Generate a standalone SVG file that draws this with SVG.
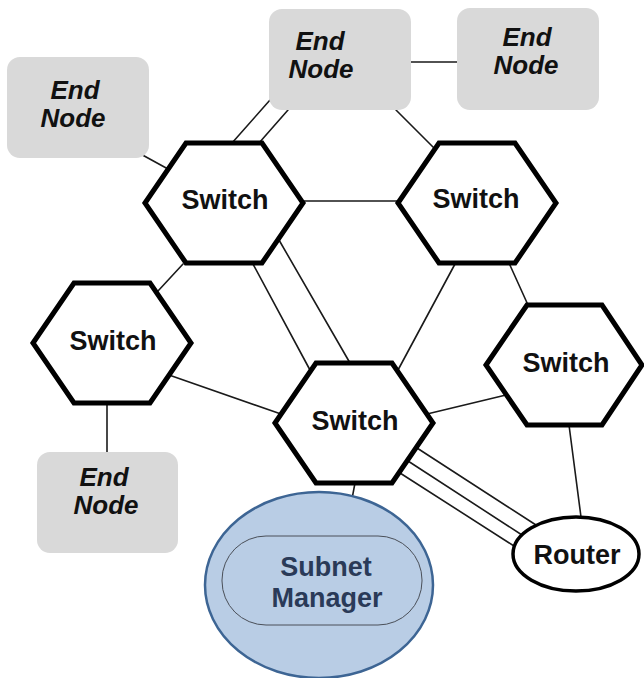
<svg xmlns="http://www.w3.org/2000/svg" width="644" height="678" viewBox="0 0 644 678">
  <style>
    .end { fill: #d9d9d9; stroke: none; }
    .endtxt { font-family: "Liberation Sans", Arial, sans-serif; font-size: 26px; font-weight: bold; font-style: italic; fill: #111; text-anchor: middle; }
    .hex { fill: #ffffff; stroke: #000; stroke-width: 5; stroke-linejoin: miter; }
    .swtxt { font-family: "Liberation Sans", Arial, sans-serif; font-size: 27px; font-weight: bold; fill: #111; text-anchor: middle; }
    .link { stroke: #1a1a1a; stroke-width: 1.6; fill: none; stroke-linecap: round; }
    .sm { fill: #b9cde5; stroke: #3d6594; stroke-width: 2.5; }
    .smin { fill: none; stroke: #4a4f58; stroke-width: 1; }
    .smtxt { font-family: "Liberation Sans", Arial, sans-serif; font-size: 27px; font-weight: bold; fill: #2a3a58; text-anchor: middle; }
    .router { fill: #ffffff; stroke: #000; stroke-width: 3.5; }
  </style>

  <!-- links between nodes -->
  <g id="connectors">
    <line class="link" x1="411" y1="62" x2="457" y2="62"/>
    <line class="link" x1="270" y1="100" x2="232" y2="143"/>
    <line class="link" x1="288" y1="110" x2="259" y2="143"/>
    <line class="link" x1="396" y1="110" x2="434" y2="148"/>
    <line class="link" x1="137" y1="152" x2="168" y2="169"/>
    <line class="link" x1="303" y1="201" x2="398" y2="201"/>
    <line class="link" x1="183" y1="264" x2="158" y2="291"/>
    <line class="link" x1="253" y1="264" x2="310" y2="370"/>
    <line class="link" x1="279" y1="240" x2="350" y2="363"/>
    <line class="link" x1="455" y1="264" x2="398" y2="370"/>
    <line class="link" x1="509" y1="263" x2="528" y2="305"/>
    <line class="link" x1="169" y1="375" x2="281" y2="414"/>
    <line class="link" x1="107" y1="403" x2="107" y2="452"/>
    <line class="link" x1="506" y1="395" x2="427" y2="414"/>
    <line class="link" x1="569" y1="425" x2="581" y2="517"/>
    <line class="link" x1="417" y1="448" x2="536" y2="525"/>
    <line class="link" x1="408" y1="461" x2="522" y2="535"/>
    <line class="link" x1="400" y1="473" x2="514" y2="546"/>
    <line class="link" x1="355" y1="483" x2="345" y2="536"/>
  </g>

  <!-- end nodes -->
  <g id="end-node-left">
    <rect class="end" x="7" y="57" width="142" height="101" rx="13"/>
    <text class="endtxt" x="75" y="99">End</text>
    <text class="endtxt" x="73" y="127">Node</text>
  </g>
  <g id="end-node-top">
    <rect class="end" x="269" y="9" width="142" height="101" rx="13"/>
    <text class="endtxt" x="320" y="50">End</text>
    <text class="endtxt" x="321" y="78">Node</text>
  </g>
  <g id="end-node-top-right">
    <rect class="end" x="457" y="8" width="142" height="102" rx="13"/>
    <text class="endtxt" x="527" y="46">End</text>
    <text class="endtxt" x="526" y="74">Node</text>
  </g>
  <g id="end-node-bottom-left">
    <rect class="end" x="37" y="452" width="141" height="101" rx="13"/>
    <text class="endtxt" x="104" y="486">End</text>
    <text class="endtxt" x="106" y="514">Node</text>
  </g>

  <!-- switches -->
  <g id="switch-top-left">
    <polygon class="hex" points="145,203 186,143 262,143 303,203 262,263 186,263"/>
    <text class="swtxt" x="225" y="209">Switch</text>
  </g>
  <g id="switch-top-right">
    <polygon class="hex" points="398,203 439,143 515,143 556,203 515,263 439,263"/>
    <text class="swtxt" x="476" y="208">Switch</text>
  </g>
  <g id="switch-left">
    <polygon class="hex" points="33,343 74,283 150,283 191,343 150,403 74,403"/>
    <text class="swtxt" x="113" y="350">Switch</text>
  </g>
  <g id="switch-center">
    <polygon class="hex" points="275,423 316,363 392,363 433,423 392,483 316,483"/>
    <text class="swtxt" x="355" y="430">Switch</text>
  </g>
  <g id="switch-right">
    <polygon class="hex" points="486,365 527,305 602,305 642,365 602,425 527,425"/>
    <text class="swtxt" x="566" y="372">Switch</text>
  </g>

  <!-- router -->
  <g id="router">
    <ellipse class="router" cx="576" cy="554" rx="63" ry="37"/>
    <text class="swtxt" x="577" y="564">Router</text>
  </g>

  <!-- subnet manager -->
  <g id="subnet-manager">
    <ellipse class="sm" cx="319" cy="585" rx="114" ry="93"/>
    <rect class="smin" x="222" y="536" width="200" height="89" rx="44"/>
    <text class="smtxt" x="326" y="576">Subnet</text>
    <text class="smtxt" x="327" y="607">Manager</text>
  </g>
</svg>
